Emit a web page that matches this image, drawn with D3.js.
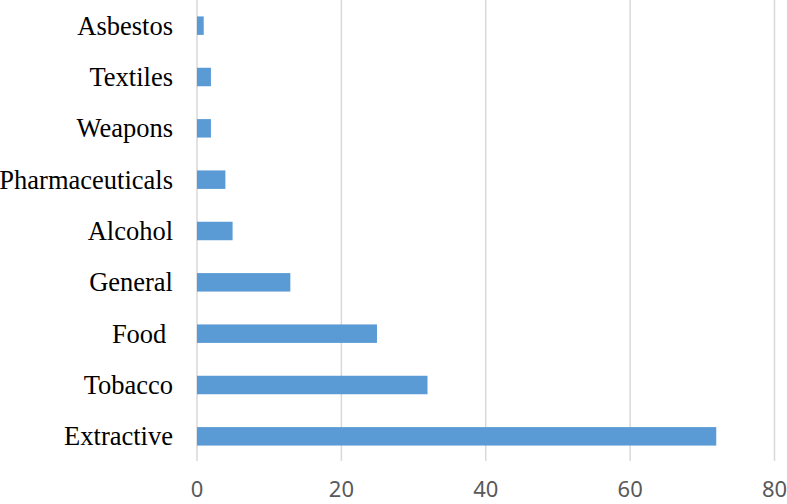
<!DOCTYPE html>
<html>
<head>
<meta charset="utf-8">
<script src="https://cdn.jsdelivr.net/npm/d3@7"></script>
<style>
  body { margin: 0; background: #fff; }
  svg { display: block; }
</style>
</head>
<body>
<script>
// categories top to bottom
var categories = ['Asbestos','Textiles','Weapons','Pharmaceuticals','Alcohol','General','Food ','Tobacco','Extractive'];
var values = [1,2,2,4,5,13,25,32,72];
var tickValues = [0,20,40,60,80];

var W = 787, H = 504;
var svg = d3.select('body').append('svg').attr('width',W).attr('height',H);

var x = d3.scaleLinear().domain([0,80]).range([196.5,774]);
var y = d3.scaleBand().domain(categories).range([0,462]).paddingInner(0.64).paddingOuter(0.32);

// grid + tick labels
var axis = svg.append('g').attr('transform','translate(0,461)')
  .call(d3.axisBottom(x).tickValues(tickValues).tickSize(-461).tickFormat(d3.format('d')));
axis.select('.domain').remove();
axis.selectAll('.tick line').attr('stroke','#d9d9d9').attr('stroke-width',1.5);
axis.selectAll('.tick text')
  .attr('y',36).attr('dy',0)
  .attr('fill','#595959')
  .style('font-family','"Noto Sans", sans-serif')
  .style('font-size','22px');

// bars
svg.append('g').selectAll('rect').data(values).enter().append('rect')
  .attr('x',x(0)+0.5)
  .attr('y',function(d,i){return y(categories[i]);})
  .attr('width',function(d){return x(d)-x(0)-0.5;})
  .attr('height',y.bandwidth())
  .attr('fill','#5b9bd5');

// category labels
svg.append('g').selectAll('text').data(categories).enter().append('text')
  .attr('x',173)
  .attr('y',function(d){return y(d)+y.bandwidth()/2+9;})
  .attr('text-anchor','end')
  .style('white-space','pre')
  .style('font-family','"Liberation Serif", "Times New Roman", serif')
  .style('font-size','26.5px')
  .attr('fill','#000')
  .text(function(d){return d;});
</script>
</body>
</html>
